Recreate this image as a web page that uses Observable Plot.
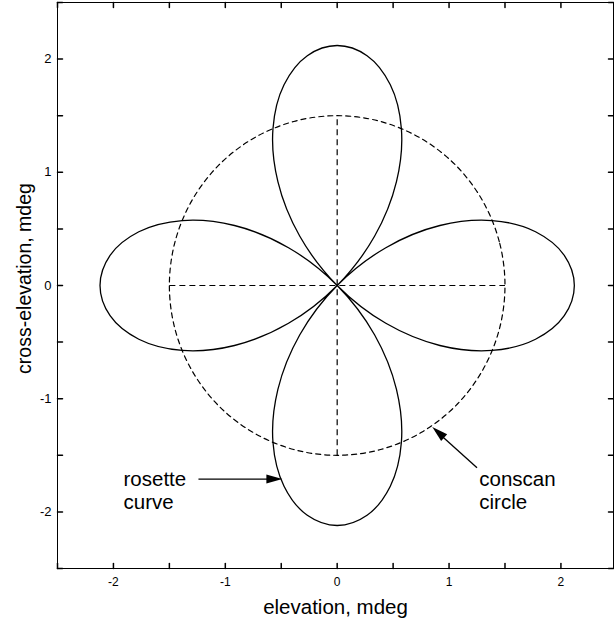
<!DOCTYPE html>
<html>
<head>
<meta charset="utf-8">
<script src="https://cdn.jsdelivr.net/npm/d3@7"></script>
<script src="https://cdn.jsdelivr.net/npm/@observablehq/plot@0.6"></script>
<style>
  html, body { margin: 0; padding: 0; background: #fff; }
  #chart { width: 614px; height: 619px; }
</style>
</head>
<body>
<div id="chart"></div>
<script>
// Rosette curve points (x = elevation, y = cross-elevation), traced petal by petal
const rosetteX = [0, 0.435, 0.918, 1.385, 1.773, 2.030, 2.120, 2.030, 1.773, 1.385, 0.918, 0.435,
  0, -0.334, -0.530, -0.574, -0.475, -0.267, 0, 0.267, 0.475, 0.574, 0.530, 0.334,
  0, -0.435, -0.918, -1.385, -1.773, -2.030, -2.120, -2.030, -1.773, -1.385, -0.918, -0.435,
  0, 0.334, 0.530, 0.574, 0.475, 0.267, 0, -0.267, -0.475, -0.574, -0.530, -0.334];
const rosetteY = [0, -0.334, -0.530, -0.574, -0.475, -0.267, 0, 0.267, 0.475, 0.574, 0.530, 0.334,
  0, -0.435, -0.918, -1.385, -1.773, -2.030, -2.120, -2.030, -1.773, -1.385, -0.918, -0.435,
  0, 0.334, 0.530, 0.574, 0.475, 0.267, 0, -0.267, -0.475, -0.574, -0.530, -0.334,
  0, 0.435, 0.918, 1.385, 1.773, 2.030, 2.120, 2.030, 1.773, 1.385, 0.918, 0.435];

// Conscan circle points
const circleX = [1.5, 1.449, 1.299, 1.061, 0.75, 0.388, 0, -0.388, -0.75, -1.061, -1.299, -1.449,
  -1.5, -1.449, -1.299, -1.061, -0.75, -0.388, 0, 0.388, 0.75, 1.061, 1.299, 1.449];
const circleY = [0, 0.388, 0.75, 1.061, 1.299, 1.449, 1.5, 1.449, 1.299, 1.061, 0.75, 0.388,
  0, -0.388, -0.75, -1.061, -1.299, -1.449, -1.5, -1.449, -1.299, -1.061, -0.75, -0.388];

// Dashed cross-hairs inside the circle
const crossX1 = [-1.5, 0];
const crossY1 = [0, -1.5];
const crossX2 = [1.5, 0];
const crossY2 = [0, 1.5];

// Annotations
const noteText = ["rosette\ncurve", "conscan\ncircle"];
const noteX = [-1.91, 1.27];
const noteY = [-1.97, -1.97];
const arrowX1 = [-1.24, 1.25];
const arrowY1 = [-1.71, -1.61];
const arrowX2 = [-0.52, 0.88];
const arrowY2 = [-1.71, -1.28];
const arrowAngle = [90, -48];

// Ticks
const labelTicks = [-2, -1, 0, 1, 2];
const minorTicks = [-2.5, -2, -1.5, -1, -0.5, 0, 0.5, 1, 1.5, 2, 2.5];

const idx = (a) => a.map((_, i) => i);
const tickShape = { draw(ctx, l) { ctx.moveTo(0, 0); ctx.lineTo(0, -l); } };
const headShape = { draw(ctx, l) { ctx.moveTo(0, -l); ctx.lineTo(4.5, 0); ctx.lineTo(-4.5, 0); ctx.closePath(); } };

const font = "'Liberation Sans', Arial, Helvetica, sans-serif";

const chart = Plot.plot({
  width: 614,
  height: 619,
  marginLeft: 57,
  marginRight: 1,
  marginTop: 2,
  marginBottom: 51,
  style: { fontFamily: font, background: "#fff", color: "#000", overflow: "visible" },
  x: { domain: [-2.5, 2.47], axis: null },
  y: { domain: [-2.5, 2.5], axis: null },
  marks: [
    Plot.frame({ stroke: "#000", strokeWidth: 1 }),
    // inward ticks on all four sides
    Plot.vector(minorTicks.filter(d => d <= 2.47), { x: d => d, frameAnchor: "bottom", rotate: 0, length: 5, anchor: "start", shape: tickShape, stroke: "#000" }),
    Plot.vector(minorTicks.filter(d => d <= 2.47), { x: d => d, frameAnchor: "top", rotate: 180, length: 5, anchor: "start", shape: tickShape, stroke: "#000" }),
    Plot.vector(minorTicks, { y: d => d, frameAnchor: "left", rotate: 90, length: 5, anchor: "start", shape: tickShape, stroke: "#000" }),
    Plot.vector(minorTicks, { y: d => d, frameAnchor: "right", rotate: -90, length: 5, anchor: "start", shape: tickShape, stroke: "#000" }),
    // tick labels
    Plot.axisX({ ticks: labelTicks, anchor: "bottom", tickSize: 0, tickPadding: 9, fontSize: 12, tickFormat: d => String(d), label: null }),
    Plot.axisY({ ticks: labelTicks, anchor: "left", tickSize: 0, tickPadding: 6, fontSize: 13, tickFormat: d => String(d), label: null }),
    // axis titles
    Plot.text(["elevation, mdeg"], { frameAnchor: "bottom", dy: 45, lineAnchor: "bottom", fontSize: 20.5, fill: "#000" }),
    Plot.text(["cross-elevation, mdeg"], { frameAnchor: "left", dx: -27, dy: -7, rotate: -90, lineAnchor: "bottom", textAnchor: "middle", fontSize: 19.5, fill: "#000" }),
    // conscan circle and cross-hairs
    Plot.line(idx(circleX), { x: i => circleX[i], y: i => circleY[i], curve: "catmull-rom-closed", stroke: "#000", strokeWidth: 1.2, strokeDasharray: "5,4" }),
    Plot.link(idx(crossX1), { x1: i => crossX1[i], y1: i => crossY1[i], x2: i => crossX2[i], y2: i => crossY2[i], stroke: "#000", strokeWidth: 1.2, strokeDasharray: "6,4" }),
    // rosette curve
    Plot.line(idx(rosetteX), { x: i => rosetteX[i], y: i => rosetteY[i], curve: "catmull-rom-closed", stroke: "#000", strokeWidth: 1.3 }),
    // annotations
    Plot.link(idx(arrowX1), { x1: i => arrowX1[i], y1: i => arrowY1[i], x2: i => arrowX2[i], y2: i => arrowY2[i], stroke: "#000", strokeWidth: 1.3 }),
    Plot.vector(idx(arrowX2), { x: i => arrowX2[i] + (i === 0 ? 0.03 : -0.03), y: i => arrowY2[i] + (i === 0 ? 0 : 0.03), rotate: i => arrowAngle[i], length: 16, anchor: "end", shape: headShape, fill: "#000", stroke: "none" }),
    Plot.text(idx(noteText), { x: i => noteX[i], y: i => noteY[i], text: i => noteText[i], textAnchor: "start", lineAnchor: "bottom", lineHeight: 1.08, fontSize: 20.5, fill: "#000" })
  ]
});
document.getElementById("chart").appendChild(chart);
</script>
</body>
</html>
